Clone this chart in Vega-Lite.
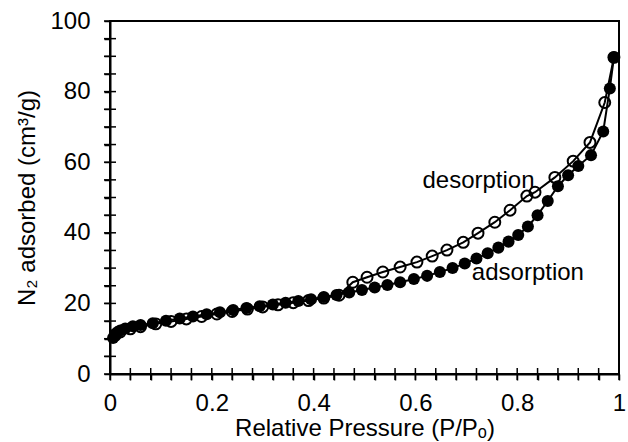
{
  "$schema": "https://vega.github.io/schema/vega-lite/v6.json",
  "autosize": "none",
  "width": 509,
  "height": 353,
  "padding": {"left": 110, "top": 21, "right": 9, "bottom": 68},
  "background": "white",
  "config": {
    "view": {"stroke": "black", "strokeWidth": 2},
    "axis": {
      "domainColor": "black", "domainWidth": 2, "tickColor": "black", "tickWidth": 1.5,
      "labelFont": "Liberation Sans", "labelFontSize": 24, "labelColor": "black",
      "titleFont": "Liberation Sans", "titleFontSize": 24, "titleFontWeight": "normal", "titleColor": "black",
      "grid": false
    }
  },
  "datasets": {
    "iso": [
      {"series": "desorption", "P": 0.99, "V": 89.7},
      {"series": "desorption", "P": 0.972, "V": 76.9},
      {"series": "desorption", "P": 0.943, "V": 65.6},
      {"series": "desorption", "P": 0.91, "V": 60.3},
      {"series": "desorption", "P": 0.874, "V": 55.7},
      {"series": "desorption", "P": 0.835, "V": 51.5},
      {"series": "desorption", "P": 0.819, "V": 50.4},
      {"series": "desorption", "P": 0.786, "V": 46.4},
      {"series": "desorption", "P": 0.756, "V": 43.0},
      {"series": "desorption", "P": 0.723, "V": 39.9},
      {"series": "desorption", "P": 0.694, "V": 37.3},
      {"series": "desorption", "P": 0.662, "V": 35.1},
      {"series": "desorption", "P": 0.633, "V": 33.4},
      {"series": "desorption", "P": 0.603, "V": 31.7},
      {"series": "desorption", "P": 0.57, "V": 30.3},
      {"series": "desorption", "P": 0.536, "V": 28.9},
      {"series": "desorption", "P": 0.505, "V": 27.4},
      {"series": "desorption", "P": 0.477, "V": 26.0},
      {"series": "desorption", "P": 0.45, "V": 22.3},
      {"series": "desorption", "P": 0.42, "V": 21.5},
      {"series": "desorption", "P": 0.39, "V": 20.8},
      {"series": "desorption", "P": 0.36, "V": 20.2},
      {"series": "desorption", "P": 0.33, "V": 19.6},
      {"series": "desorption", "P": 0.30, "V": 19.0},
      {"series": "desorption", "P": 0.27, "V": 18.4},
      {"series": "desorption", "P": 0.24, "V": 17.7},
      {"series": "desorption", "P": 0.21, "V": 17.0},
      {"series": "desorption", "P": 0.18, "V": 16.3},
      {"series": "desorption", "P": 0.15, "V": 15.6},
      {"series": "desorption", "P": 0.12, "V": 14.9},
      {"series": "desorption", "P": 0.09, "V": 14.2},
      {"series": "desorption", "P": 0.06, "V": 13.4},
      {"series": "desorption", "P": 0.04, "V": 12.8},
      {"series": "desorption", "P": 0.02, "V": 11.9},
      {"series": "desorption", "P": 0.01, "V": 10.9},
      {"series": "adsorption", "P": 0.006, "V": 10.2},
      {"series": "adsorption", "P": 0.01, "V": 11.3},
      {"series": "adsorption", "P": 0.015, "V": 11.9},
      {"series": "adsorption", "P": 0.02, "V": 12.3},
      {"series": "adsorption", "P": 0.03, "V": 12.9},
      {"series": "adsorption", "P": 0.045, "V": 13.5},
      {"series": "adsorption", "P": 0.06, "V": 13.9},
      {"series": "adsorption", "P": 0.084, "V": 14.4},
      {"series": "adsorption", "P": 0.11, "V": 15.1},
      {"series": "adsorption", "P": 0.137, "V": 15.7},
      {"series": "adsorption", "P": 0.163, "V": 16.3},
      {"series": "adsorption", "P": 0.19, "V": 16.9},
      {"series": "adsorption", "P": 0.216, "V": 17.5},
      {"series": "adsorption", "P": 0.242, "V": 18.1},
      {"series": "adsorption", "P": 0.268, "V": 18.7},
      {"series": "adsorption", "P": 0.294, "V": 19.2},
      {"series": "adsorption", "P": 0.32, "V": 19.7},
      {"series": "adsorption", "P": 0.345, "V": 20.2},
      {"series": "adsorption", "P": 0.37, "V": 20.7},
      {"series": "adsorption", "P": 0.395, "V": 21.2},
      {"series": "adsorption", "P": 0.42, "V": 21.8},
      {"series": "adsorption", "P": 0.445, "V": 22.4},
      {"series": "adsorption", "P": 0.47, "V": 23.1},
      {"series": "adsorption", "P": 0.495, "V": 23.8},
      {"series": "adsorption", "P": 0.52, "V": 24.5},
      {"series": "adsorption", "P": 0.545, "V": 25.2},
      {"series": "adsorption", "P": 0.57, "V": 26.0},
      {"series": "adsorption", "P": 0.597, "V": 26.9},
      {"series": "adsorption", "P": 0.623, "V": 27.8},
      {"series": "adsorption", "P": 0.648, "V": 28.9},
      {"series": "adsorption", "P": 0.673, "V": 30.0},
      {"series": "adsorption", "P": 0.697, "V": 31.3},
      {"series": "adsorption", "P": 0.72, "V": 32.7},
      {"series": "adsorption", "P": 0.742, "V": 34.2},
      {"series": "adsorption", "P": 0.763, "V": 35.8},
      {"series": "adsorption", "P": 0.783, "V": 37.5},
      {"series": "adsorption", "P": 0.802, "V": 39.4},
      {"series": "adsorption", "P": 0.821, "V": 41.8},
      {"series": "adsorption", "P": 0.84, "V": 45.0},
      {"series": "adsorption", "P": 0.86, "V": 49.0},
      {"series": "adsorption", "P": 0.88, "V": 53.2},
      {"series": "adsorption", "P": 0.9, "V": 56.3},
      {"series": "adsorption", "P": 0.92, "V": 58.9},
      {"series": "adsorption", "P": 0.945, "V": 62.0},
      {"series": "adsorption", "P": 0.969, "V": 68.7},
      {"series": "adsorption", "P": 0.982, "V": 80.9},
      {"series": "adsorption", "P": 0.99, "V": 89.7}
    ],
    "labels": [
      {"label": "desorption", "P": 0.724, "V": 52.6},
      {"label": "adsorption", "P": 0.821, "V": 26.6}
    ],
    "xticks": [
      {"t": 0}, {"t": 0.04}, {"t": 0.08}, {"t": 0.12}, {"t": 0.16}, {"t": 0.2}, {"t": 0.24}, {"t": 0.28}, {"t": 0.32}, {"t": 0.36},
      {"t": 0.4}, {"t": 0.44}, {"t": 0.48}, {"t": 0.52}, {"t": 0.56}, {"t": 0.6}, {"t": 0.64}, {"t": 0.68}, {"t": 0.72}, {"t": 0.76},
      {"t": 0.8}, {"t": 0.84}, {"t": 0.88}, {"t": 0.92}, {"t": 0.96}, {"t": 1}
    ],
    "yticks": [
      {"t": 0}, {"t": 5}, {"t": 10}, {"t": 15}, {"t": 20}, {"t": 25}, {"t": 30}, {"t": 35}, {"t": 40}, {"t": 45}, {"t": 50},
      {"t": 55}, {"t": 60}, {"t": 65}, {"t": 70}, {"t": 75}, {"t": 80}, {"t": 85}, {"t": 90}, {"t": 95}, {"t": 100}
    ]
  },
  "layer": [
    {
      "data": {"name": "iso"},
      "transform": [{"filter": "datum.series == 'desorption'"}],
      "mark": {"type": "line", "color": "black", "strokeWidth": 2},
      "encoding": {
        "x": {"field": "P", "type": "quantitative", "scale": {"domain": [0, 1], "nice": false, "padding": 0},
          "axis": {"orient": "bottom", "title": "Relative Pressure (P/Pₒ)",
            "values": [0,0.04,0.08,0.12,0.16,0.2,0.24,0.28,0.32,0.36,0.4,0.44,0.48,0.52,0.56,0.6,0.64,0.68,0.72,0.76,0.8,0.84,0.88,0.92,0.96,1],
            "format": "~g", "labelExpr": "round(datum.value*100) % 20 == 0 ? datum.label : ''",
            "tickSize": 6, "labelPadding": 11, "titlePadding": 1, "labelFlush": false, "labelOverlap": false}},
        "y": {"field": "V", "type": "quantitative", "scale": {"domain": [0, 100], "nice": false, "padding": 0},
          "axis": {"orient": "left", "title": "N₂ adsorbed (cm³/g)",
            "values": [0,5,10,15,20,25,30,35,40,45,50,55,60,65,70,75,80,85,90,95,100],
            "labelExpr": "datum.value % 20 == 0 ? datum.label : ''",
            "tickSize": 6, "labelPadding": 14, "titlePadding": 10, "labelFlush": false, "labelOverlap": false}}
      }
    },
    {
      "data": {"name": "xticks"},
      "mark": {"type": "tick", "orient": "vertical", "color": "black", "size": 12, "thickness": 1.5, "opacity": 1},
      "encoding": {
        "x": {"field": "t", "type": "quantitative", "axis": null},
        "y": {"datum": 0, "type": "quantitative", "axis": null}
      }
    },
    {
      "data": {"name": "yticks"},
      "mark": {"type": "tick", "orient": "horizontal", "color": "black", "size": 12, "thickness": 1.5, "opacity": 1},
      "encoding": {
        "x": {"datum": 0, "type": "quantitative", "axis": null},
        "y": {"field": "t", "type": "quantitative", "axis": null}
      }
    },
    {
      "data": {"name": "iso"},
      "transform": [{"filter": "datum.series == 'adsorption'"}],
      "mark": {"type": "line", "color": "black", "strokeWidth": 2},
      "encoding": {
        "x": {"field": "P", "type": "quantitative", "axis": null},
        "y": {"field": "V", "type": "quantitative", "axis": null}
      }
    },
    {
      "data": {"name": "iso"},
      "transform": [{"filter": "datum.series == 'desorption'"}],
      "mark": {"type": "point", "shape": "circle", "filled": false, "stroke": "black", "strokeWidth": 2, "size": 120, "opacity": 1},
      "encoding": {
        "x": {"field": "P", "type": "quantitative", "axis": null},
        "y": {"field": "V", "type": "quantitative", "axis": null}
      }
    },
    {
      "data": {"name": "iso"},
      "transform": [{"filter": "datum.series == 'adsorption'"}],
      "mark": {"type": "point", "shape": "circle", "filled": true, "fill": "black", "size": 145, "opacity": 1},
      "encoding": {
        "x": {"field": "P", "type": "quantitative", "axis": null},
        "y": {"field": "V", "type": "quantitative", "axis": null}
      }
    },
    {
      "data": {"name": "labels"},
      "mark": {"type": "text", "font": "Liberation Sans", "fontSize": 24, "color": "black", "align": "center", "baseline": "alphabetic"},
      "encoding": {
        "x": {"field": "P", "type": "quantitative", "axis": null},
        "y": {"field": "V", "type": "quantitative", "axis": null},
        "text": {"field": "label"}
      }
    }
  ],
  "resolve": {"axis": {"x": "independent", "y": "independent"}}
}
